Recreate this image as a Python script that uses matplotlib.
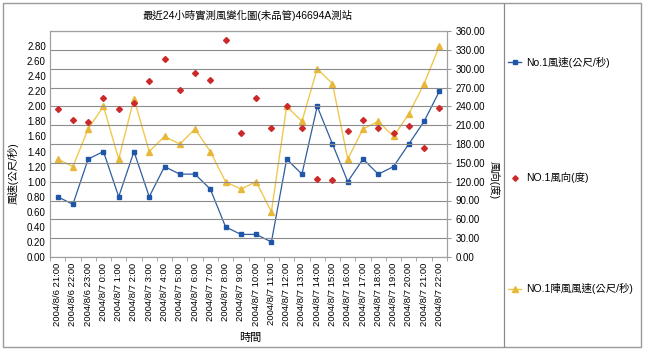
import matplotlib
matplotlib.use("Agg")
import matplotlib.pyplot as plt
from matplotlib.lines import Line2D
from matplotlib.patches import Rectangle

plt.rcParams["font.family"] = ["Liberation Sans", "Noto Sans CJK TC", "DejaVu Sans"]

# hourly stations readings, 2004/8/6 21:00 .. 2004/8/7 22:00
hours = ["2004/8/6 21:00", "2004/8/6 22:00", "2004/8/6 23:00"] + \
        ["2004/8/7 %d:00" % h for h in range(0, 23)]

wind_speed = [0.8, 0.7, 1.3, 1.4, 0.8, 1.4, 0.8, 1.2, 1.1, 1.1, 0.9, 0.4, 0.3,
              0.3, 0.2, 1.3, 1.1, 2.0, 1.5, 1.0, 1.3, 1.1, 1.2, 1.5, 1.8, 2.2]
wind_dir = [235, 218, 215, 254, 236, 245, 281, 315, 266, 293, 282, 345, 198,
            253, 205, 240, 206, 125, 123, 200, 218, 205, 198, 209, 173, 237]
gust_speed = [1.3, 1.2, 1.7, 2.0, 1.3, 2.1, 1.4, 1.6, 1.5, 1.7, 1.4, 1.0, 0.9,
              1.0, 0.6, 2.0, 1.8, 2.5, 2.3, 1.3, 1.7, 1.8, 1.6, 1.9, 2.3, 2.8]

left_ticks = [i * 0.2 for i in range(15)]
right_ticks = list(range(0, 361, 30))

title = "最近24小時實測風變化圖(未品管)46694A測站"
labels = ["No.1風速(公尺/秒)", "NO.1風向(度)", "NO.1陣風風速(公尺/秒)"]

W, H = 645, 352
fig = plt.figure(figsize=(W / 100, H / 100), dpi=100)


def fx(px):
    return px / W


def fy(py):
    return 1 - py / H


# outer frame and legend panel separator
fig.patches.append(Rectangle((fx(3), fy(347)), fx(638), 344 / H,
                             transform=fig.transFigure, fill=False,
                             edgecolor="#9a9a9a", lw=1.0))
fig.add_artist(Line2D([fx(504), fx(504)], [fy(4), fy(346)],
                      transform=fig.transFigure, color="#8a8a8a", lw=0.9))

ax = fig.add_axes([fx(50), fy(257), fx(397), 226 / H])
ax2 = ax.twinx()
x = list(range(len(hours)))

blue_line = "#2f5d9e"
blue_mark = "#1f56a8"
yellow = "#f0c850"
yellow_mark = "#e8b83a"
red = "#cc2a2a"

ax.plot(x, wind_speed, color=blue_line, lw=0.9, marker="s", ms=3.4,
        mfc=blue_mark, mec=blue_mark, zorder=4)
ax.plot(x, gust_speed, color=yellow, lw=1.0, marker="^", ms=5,
        mfc=yellow_mark, mec=yellow_mark, zorder=3)
ax2.plot(x, wind_dir, ls="none", marker="D", ms=3.0, mfc=red, mec=red, zorder=5)

ax.set_xlim(-0.5, len(hours) - 0.5)
ax.set_ylim(0, 3.0)
ax2.set_ylim(0, 360)

ax.set_yticks(left_ticks)
ax.set_yticklabels(["%.2f" % v for v in left_ticks])
ax2.set_yticks(right_ticks)
ax2.set_yticklabels(["%.2f" % v for v in right_ticks])
ax2.grid(axis="y", color="#8c8c8c", lw=0.8)
ax2.set_axisbelow(True)

ax.set_xticks(x)
ax.set_xticklabels(hours, rotation=90, fontsize=6.8)
ax.set_xticks([i - 0.5 for i in range(len(hours) + 1)], minor=True)
ax.tick_params(axis="x", which="major", length=0, pad=4)
ax.tick_params(axis="x", which="minor", length=3, color="#999999")
ax.tick_params(axis="y", length=0, labelsize=7, pad=3)
ax2.tick_params(axis="y", length=3, color="#999999", labelsize=7, pad=3)

for a in (ax, ax2):
    for s in a.spines.values():
        s.set_color("#a0a0a0")
        s.set_linewidth(0.8)

fig.text(fx(248), fy(15), title, ha="center", va="center", fontsize=7.5)
fig.text(fx(250), fy(338), "時間", ha="center", va="center", fontsize=8)
fig.text(fx(13), fy(173), "風速(公尺/秒)", rotation=90, ha="center",
         va="center", fontsize=7.5)
fig.text(fx(494), fy(180), "風向(度)", rotation=-90, ha="center",
         va="center", fontsize=7.5)

# legend entries spread down the right panel
legend_y = [62, 178, 289]
legend_line = [blue_line, None, yellow]
legend_mark = [("s", 3.4, blue_mark), ("D", 2.8, red), ("^", 4.5, yellow_mark)]
for yy, lab, lc, (mk, ms, mc) in zip(legend_y, labels, legend_line, legend_mark):
    if lc:
        fig.add_artist(Line2D([fx(508), fx(521)], [fy(yy), fy(yy)],
                              transform=fig.transFigure, color=lc, lw=1.0))
    fig.add_artist(Line2D([fx(514.5)], [fy(yy)], transform=fig.transFigure,
                          ls="none", marker=mk, ms=ms, mfc=mc, mec=mc))
    fig.text(fx(526), fy(yy), lab, ha="left", va="center", fontsize=7.5)

fig.savefig("out.png", dpi=100)
